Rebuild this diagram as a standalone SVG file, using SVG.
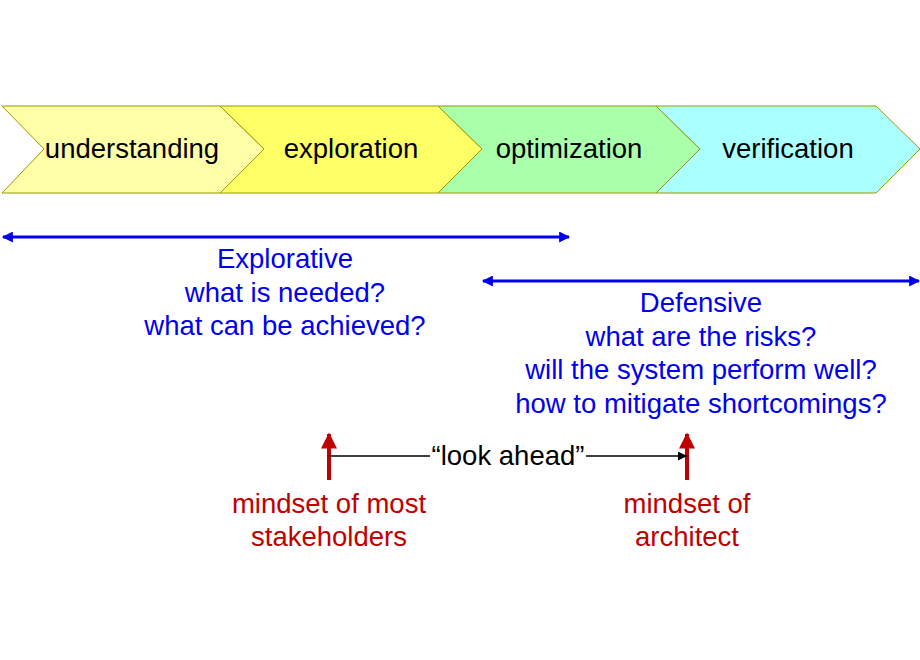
<svg xmlns="http://www.w3.org/2000/svg" width="920" height="660" viewBox="0 0 920 660">
<style>
text{font-family:"Liberation Sans",Arial,sans-serif;font-size:27.5px;text-anchor:middle}
.b{fill:#0000ee}.r{fill:#c00000}.k{fill:#000}
.ch{stroke:#999900;stroke-width:1}
</style>
<defs>
<marker id="ab" viewBox="0 0 10 10" refX="9" refY="5" markerWidth="16" markerHeight="11" markerUnits="userSpaceOnUse" orient="auto-start-reverse"><path d="M0,0L10,5L0,10z" fill="#0000ee"/></marker>
<marker id="ar" viewBox="0 0 10 10" refX="9" refY="5" markerWidth="18" markerHeight="16" markerUnits="userSpaceOnUse" orient="auto"><path d="M0,0L10,5L0,10z" fill="#c00000"/></marker>
<marker id="ak" viewBox="0 0 10 10" refX="10" refY="5" markerWidth="14" markerHeight="9" markerUnits="userSpaceOnUse" orient="auto"><path d="M0,0L10,5L0,10z" fill="#000"/></marker>
</defs>
<g id="understanding"><polygon class="ch" fill="#FFFFA8" points="2,106 220,106 264,149 220,193 2,193 44,149"/><text x="132" y="158" class="k">understanding</text></g>
<g id="exploration"><polygon class="ch" fill="#FFFF66" points="220,106 438,106 482,149 438,193 220,193 264,149"/><text x="351" y="158" class="k">exploration</text></g>
<g id="optimization"><polygon class="ch" fill="#AAFFAA" points="438,106 656,106 700,149 656,193 438,193 482,149"/><text x="569" y="158" class="k">optimization</text></g>
<g id="verification"><polygon class="ch" fill="#AAFFFF" points="656,106 876,106 920,149 876,193 656,193 700,149"/><text x="788" y="158" class="k">verification</text></g>
<g id="connectors">
<line x1="3" y1="237" x2="569" y2="237" stroke="#0000ee" stroke-width="3" marker-start="url(#ab)" marker-end="url(#ab)"/>
<line x1="483" y1="281" x2="919" y2="281" stroke="#0000ee" stroke-width="3" marker-start="url(#ab)" marker-end="url(#ab)"/>
<line x1="329" y1="480" x2="329" y2="434" stroke="#c00000" stroke-width="4" marker-end="url(#ar)"/>
<line x1="687" y1="480" x2="687" y2="434" stroke="#c00000" stroke-width="4" marker-end="url(#ar)"/>
<line x1="329" y1="456" x2="430" y2="456" stroke="#000" stroke-width="1.3"/>
<line x1="586" y1="456" x2="687" y2="456" stroke="#000" stroke-width="1.3" marker-end="url(#ak)"/>
</g>
<g id="explorative"><text class="b" x="285" y="268">Explorative</text><text class="b" x="285" y="302">what is needed?</text><text class="b" x="285" y="335">what can be achieved?</text></g>
<g id="defensive"><text class="b" x="701" y="312">Defensive</text><text class="b" x="701" y="346">what are the risks?</text><text class="b" x="701" y="379">will the system perform well?</text><text class="b" x="701" y="413">how to mitigate shortcomings?</text></g>
<g id="lookahead"><text class="k" x="508" y="465">“look ahead”</text></g>
<g id="stakeholders"><text class="r" x="329" y="513">mindset of most</text><text class="r" x="329" y="546">stakeholders</text></g>
<g id="architect"><text class="r" x="687" y="513">mindset of</text><text class="r" x="687" y="546">architect</text></g>
</svg>
